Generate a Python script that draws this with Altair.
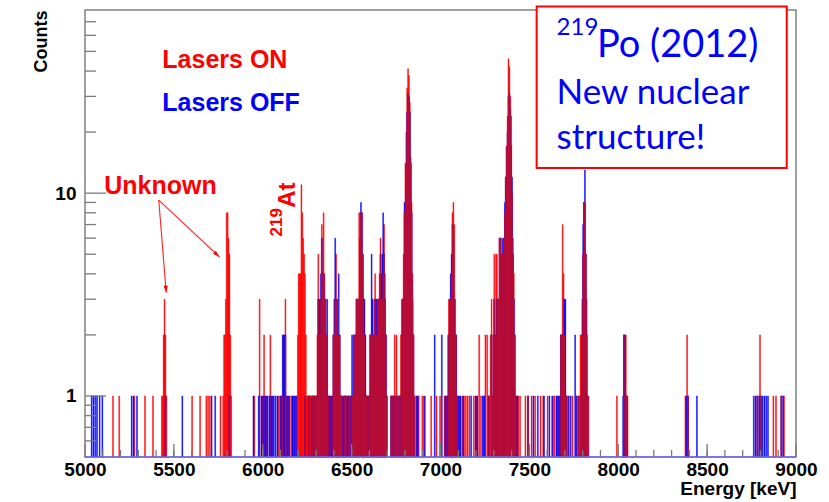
import altair as alt
import pandas as pd

# ---------------- data (bin start energy [keV], counts), 5 keV bins ----------------
BIN_WIDTH = 5

LASERS_ON = [
    (5155, 1), (5190, 1), (5275, 1), (5335, 1), (5380, 1),
    (5430, 1), (5435, 1), (5440, 2), (5445, 3), (5450, 2), (5455, 1),
    (5600, 1), (5645, 1), (5680, 1), (5690, 1), (5700, 1), (5760, 1),
    (5775, 1), (5780, 2), (5785, 2), (5790, 3), (5795, 8), (5800, 8), (5805, 6), (5810, 5), (5815, 2), (5820, 1),
    (5950, 1), (5980, 3), (5995, 1), (6005, 2), (6020, 1), (6040, 2), (6055, 1), (6085, 1), (6100, 1), (6110, 1),
    (6125, 3), (6130, 1), (6140, 1), (6150, 1), (6160, 1), (6170, 1), (6180, 1), (6190, 1),
    (6195, 2), (6200, 4), (6205, 4), (6210, 4), (6215, 11), (6220, 8), (6225, 6), (6230, 5), (6235, 4), (6240, 2), (6245, 1),
    (6250, 1), (6255, 1), (6260, 1), (6265, 1), (6270, 1), (6275, 1), (6280, 1), (6285, 1), (6290, 1), (6295, 1), (6300, 1),
    (6305, 2), (6310, 5), (6315, 2), (6320, 2), (6325, 3), (6330, 7), (6335, 4), (6340, 8), (6345, 4), (6350, 3), (6355, 2), (6360, 1), (6365, 1),
    (6370, 1), (6380, 1), (6390, 1),
    (6395, 2), (6400, 2), (6405, 3), (6410, 5), (6415, 3), (6420, 2), (6425, 2), (6430, 2), (6435, 1),
    (6440, 1), (6445, 1), (6455, 1), (6460, 1), (6465, 1), (6470, 1), (6480, 1), (6485, 1), (6490, 1), (6500, 1), (6505, 1), (6510, 1),
    (6515, 2), (6520, 2), (6525, 3), (6530, 3), (6535, 3), (6540, 8), (6545, 8), (6550, 8), (6555, 8), (6560, 5), (6565, 3), (6570, 2), (6575, 1), (6580, 1), (6585, 1), (6590, 1), (6595, 1),
    (6600, 2), (6605, 2), (6610, 2), (6615, 2), (6620, 2), (6625, 3), (6630, 4), (6635, 2), (6640, 3), (6645, 3), (6650, 3), (6655, 4),
    (6660, 6), (6665, 3), (6670, 3), (6675, 4), (6680, 7), (6685, 4), (6690, 2), (6695, 1),
    (6720, 1), (6725, 1), (6730, 1), (6735, 1), (6740, 2), (6745, 1), (6750, 2), (6755, 1), (6760, 1), (6765, 1),
    (6770, 1), (6775, 2), (6780, 3), (6785, 3), (6790, 5), (6795, 8), (6800, 14), (6805, 20), (6810, 33), (6815, 41), (6820, 38), (6825, 28), (6830, 15), (6835, 9), (6840, 4), (6845, 2), (6850, 1),
    (6860, 1), (6875, 1), (6895, 1), (6910, 1), (6945, 1), (6975, 1), (6995, 1), (7020, 1), (7030, 1),
    (7040, 2), (7045, 3), (7050, 3), (7055, 3), (7060, 4), (7065, 8), (7070, 9), (7075, 7), (7080, 3), (7085, 2), (7090, 1), (7095, 1),
    (7105, 1), (7120, 1), (7130, 1), (7140, 1), (7150, 1), (7160, 1), (7185, 1), (7200, 1), (7215, 2), (7225, 1), (7240, 1),
    (7250, 2), (7260, 2), (7265, 1), (7270, 1), (7280, 2), (7285, 3), (7290, 1), (7295, 2),
    (7300, 5), (7305, 2), (7310, 5), (7315, 5), (7320, 3), (7325, 3), (7330, 6), (7335, 6), (7340, 5), (7345, 5), (7350, 5), (7355, 6),
    (7360, 8), (7365, 12), (7370, 17), (7375, 24), (7380, 46), (7385, 42), (7390, 30), (7395, 24), (7400, 10), (7405, 6), (7410, 4), (7415, 2), (7420, 1), (7425, 1),
    (7435, 1), (7445, 1), (7475, 1), (7490, 1), (7510, 1), (7530, 1), (7560, 1), (7575, 1), (7600, 1), (7625, 1), (7640, 1), (7655, 1), (7665, 1),
    (7675, 2), (7680, 2), (7685, 7), (7690, 4), (7695, 2), (7700, 1), (7705, 1),
    (7720, 1), (7740, 1), (7760, 1), (7775, 1),
    (7785, 2), (7790, 2), (7795, 3), (7800, 5), (7805, 9), (7810, 9), (7815, 5), (7820, 3), (7825, 1), (7830, 1),
    (7990, 1), (8030, 2), (8040, 2), (8045, 1), (8050, 1),
    (8375, 1), (8385, 2), (8390, 1),
    (8780, 1), (8795, 2), (8800, 1), (8870, 1), (8885, 1), (8915, 1), (8930, 1),
]

LASERS_OFF = [
    (5035, 1), (5045, 1), (5055, 1), (5065, 1), (5080, 1), (5095, 1), (5260, 1), (5270, 1), (5290, 1),
    (5450, 1), (5545, 1), (5710, 1), (5730, 1), (5810, 1),
    (5945, 1), (5975, 1), (5990, 1), (6000, 1), (6010, 1), (6015, 1), (6025, 1), (6035, 1), (6045, 1), (6050, 1),
    (6060, 1), (6070, 1), (6080, 1), (6095, 1), (6105, 1),
    (6110, 2), (6115, 2), (6120, 2), (6125, 2), (6135, 1), (6145, 1), (6165, 1), (6175, 1), (6185, 1),
    (6235, 1), (6255, 1), (6260, 1), (6275, 1), (6280, 1), (6290, 1),
    (6300, 1), (6305, 1), (6310, 3), (6315, 3), (6320, 3), (6325, 4), (6330, 6), (6335, 4), (6340, 4), (6345, 3), (6350, 3), (6355, 2), (6360, 3), (6365, 1),
    (6375, 1), (6385, 1),
    (6395, 2), (6400, 3), (6405, 6), (6410, 3), (6415, 3), (6420, 2), (6425, 4), (6430, 2), (6435, 1),
    (6440, 1), (6450, 1), (6460, 1), (6465, 1), (6475, 1), (6485, 1), (6495, 1), (6500, 2), (6505, 1), (6510, 2),
    (6515, 2), (6520, 2), (6525, 3), (6530, 3), (6535, 3), (6540, 3), (6545, 6), (6550, 9), (6555, 8), (6560, 5), (6565, 3), (6570, 3), (6575, 2), (6580, 1), (6585, 1), (6595, 1),
    (6600, 1), (6605, 2), (6610, 5), (6615, 3), (6620, 2), (6625, 2), (6630, 3), (6635, 3), (6640, 2), (6645, 3), (6650, 3), (6655, 3),
    (6660, 5), (6665, 4), (6670, 5), (6675, 8), (6680, 5), (6685, 3), (6690, 2), (6695, 1),
    (6720, 1), (6730, 1), (6740, 1), (6755, 1), (6765, 1),
    (6775, 1), (6780, 2), (6785, 3), (6790, 3), (6795, 9), (6800, 9), (6805, 14), (6810, 25), (6815, 31), (6820, 30), (6825, 25), (6830, 14), (6835, 8), (6840, 3), (6845, 2), (6850, 1),
    (6865, 1), (6870, 1), (6905, 1), (6965, 2), (7005, 2), (7025, 1), (7035, 1),
    (7040, 1), (7045, 2), (7050, 3), (7055, 4), (7060, 5), (7065, 7), (7070, 6), (7075, 3), (7080, 2), (7085, 2), (7090, 1), (7100, 1),
    (7110, 1), (7125, 1), (7170, 1), (7195, 1), (7205, 1), (7235, 1), (7245, 1), (7270, 1), (7285, 2), (7290, 1), (7295, 1),
    (7300, 3), (7305, 2), (7310, 2), (7315, 3), (7320, 3), (7325, 3), (7330, 6), (7335, 6), (7340, 3), (7345, 6), (7350, 5), (7355, 6),
    (7360, 9), (7365, 12), (7370, 17), (7375, 20), (7380, 30), (7385, 31), (7390, 26), (7395, 17), (7400, 12), (7405, 5), (7410, 3), (7415, 2), (7420, 1),
    (7430, 1), (7490, 1), (7520, 1), (7545, 1), (7580, 1), (7610, 1), (7630, 1), (7650, 1), (7660, 1),
    (7670, 1), (7675, 2), (7680, 2), (7685, 2), (7690, 2), (7695, 3), (7700, 3), (7705, 1),
    (7715, 1), (7730, 1), (7755, 2), (7765, 1), (7775, 1),
    (7785, 1), (7790, 1), (7795, 2), (7800, 7), (7805, 9), (7810, 13), (7815, 5), (7820, 2), (7825, 1),
    (8025, 1), (8030, 2), (8035, 2), (8040, 1), (8045, 1),
    (8380, 1), (8390, 1), (8440, 1),
    (8760, 1), (8770, 1), (8780, 1), (8790, 1), (8800, 1), (8810, 1), (8820, 1), (8830, 1), (8840, 1), (8915, 1), (8925, 1),
]

X_LABELS = [5000, 5500, 6000, 6500, 7000, 7500, 8000, 8500, 9000]
X_MINOR = list(range(5100, 9000, 100))
Y_LABELS = [1, 10]
Y_MINOR = [0.6, 0.7, 0.8, 0.9, 2, 3, 4, 5, 6, 7, 8, 9, 20, 30, 40, 50, 60, 70]

# annotation positions in data units (energy, counts)
ANNOT_E = {"Lasers ON": 5435, "Lasers OFF": 5435, "Unknown": 5425, "At": 6140, "219a": 6078}
ANNOT_C = {"Lasers ON": 45.2, "Lasers OFF": 27.8, "Unknown": 10.9, "At": 9.77, "219a": 7.19}
ARROW_FROM = [(5415, 9.24), (5415, 9.24)]
ARROW_TO = [(5457, 3.23), (5757, 4.84)]
BOX_E = [7541, 8948]
BOX_C = [83.2, 13.3]

# ---------------- build table ----------------
on_d = dict(LASERS_ON)
off_d = dict(LASERS_OFF)
energies = sorted(set(on_d) | set(off_d))
df = pd.DataFrame({
    "e": energies,
    "e2": [e + BIN_WIDTH for e in energies],
    "on": [on_d.get(e, 0) for e in energies],
    "off": [off_d.get(e, 0) for e in energies],
})
df["both"] = df[["on", "off"]].min(axis=1)
df["base"] = 0.5

W, H = 711, 447
FONT = "Liberation Sans"
xs = alt.Scale(domain=[5000, 9000], nice=False, zero=False)
ys = alt.Scale(type="log", domain=[0.5, 80], nice=False)

x_axis = alt.Axis(values=X_LABELS, format="d", ticks=False, tickSize=0, domain=False, grid=False,
                  labelFont=FONT, labelFontSize=19, labelFontWeight="bold", labelColor="black",
                  labelPadding=3, labelFlush=False, labelOverlap=False,
                  title="Energy [keV]", titleFont=FONT, titleFontSize=19, titleFontWeight="bold",
                  titleColor="black", titleX=W, titleY=31, titleAlign="right", titleBaseline="middle")
y_axis = alt.Axis(values=Y_LABELS, format="d", ticks=False, tickSize=0, domain=False, grid=False,
                  labelFont=FONT, labelFontSize=19, labelFontWeight="bold", labelColor="black",
                  labelPadding=9, labelOverlap=False,
                  title="Counts", titleFont=FONT, titleFontSize=18, titleFontWeight="bold",
                  titleColor="black", titleAngle=270, titleX=-44, titleY=0, titleAlign="right",
                  titleBaseline="middle")


def X(field):
    return alt.X(field, scale=xs, axis=x_axis)


def Y(field):
    return alt.Y(field, scale=ys, axis=y_axis)


base = alt.Chart(df)


def hist(field, color):
    return base.transform_filter(f"datum.{field} > 0").mark_rect(
        color=color, stroke=color, strokeWidth=0.45).encode(
        x=X("e:Q"), x2="e2:Q", y=Y(f"{field}:Q"), y2="base:Q")


red = hist("on", "#ff0000")
blue = hist("off", "#0000ff")
both = hist("both", "#c01030")

baseline = alt.Chart(pd.DataFrame({"v": [0.5]})).mark_rule(color="#6a6aff", strokeWidth=1.5).encode(
    y=Y("v:Q"), x=alt.value(0), x2=alt.value(W))

ytick_minor = alt.Chart(pd.DataFrame({"v": Y_MINOR})).mark_rule(color="#7a7a7a", strokeWidth=1.3).encode(
    y=Y("v:Q"), x=alt.value(0), x2=alt.value(11))
ytick_major = alt.Chart(pd.DataFrame({"v": Y_LABELS})).mark_rule(color="#7a7a7a", strokeWidth=1.3).encode(
    y=Y("v:Q"), x=alt.value(0), x2=alt.value(21))
xtick_minor = alt.Chart(pd.DataFrame({"v": X_MINOR})).mark_rule(color="#7a7a7a", strokeWidth=1.3).encode(
    x=X("v:Q"), y=alt.value(H), y2=alt.value(H - 7))
xtick_major = alt.Chart(pd.DataFrame({"v": X_LABELS})).mark_rule(color="#7a7a7a", strokeWidth=1.3).encode(
    x=X("v:Q"), y=alt.value(H), y2=alt.value(H - 13))


def label(text, e, c, size, color, font=FONT, weight="bold", align="left", baseline="middle", angle=0):
    kw = dict(text=text, fontSize=size, color=color, font=font, fontWeight=weight,
              align=align, baseline=baseline)
    if angle:
        kw["angle"] = angle
    return alt.Chart(pd.DataFrame({"e": [e], "c": [c]})).mark_text(**kw).encode(
        x=X("e:Q"), y=Y("c:Q"))


arrows = alt.Chart(pd.DataFrame({
    "e": [a[0] for a in ARROW_FROM], "c": [a[1] for a in ARROW_FROM],
    "e2": [b[0] for b in ARROW_TO], "c2": [b[1] for b in ARROW_TO],
})).mark_rule(color="#ff2020", strokeWidth=1.1).encode(
    x=X("e:Q"), y=Y("c:Q"), x2="e2:Q", y2="c2:Q")

heads = alt.Chart(pd.DataFrame({
    "e": [b[0] for b in ARROW_TO], "c": [b[1] for b in ARROW_TO], "ang": [355.4, 313.2],
})).mark_point(shape="M0,0L-0.45,-1.5L0.45,-1.5Z", filled=True, color="#ff0000", size=90, opacity=1).encode(
    x=X("e:Q"), y=Y("c:Q"), angle=alt.Angle("ang:Q", scale=None))

box = alt.Chart(pd.DataFrame({"e": [BOX_E[0]], "e2": [BOX_E[1]], "c": [BOX_C[0]], "c2": [BOX_C[1]]})).mark_rect(
    fill="white", stroke="#ff0000", strokeWidth=2).encode(
    x=X("e:Q"), x2="e2:Q", y=Y("c:Q"), y2="c2:Q")

BOX_FONT = "Lato"
texts = [
    label("Lasers ON", ANNOT_E["Lasers ON"], ANNOT_C["Lasers ON"], 25, "#ff0000"),
    label("Lasers OFF", ANNOT_E["Lasers OFF"], ANNOT_C["Lasers OFF"], 25, "#0000ff"),
    label("Unknown", ANNOT_E["Unknown"], ANNOT_C["Unknown"], 25, "#ff0000", align="center"),
    label("At", ANNOT_E["At"], ANNOT_C["At"], 24, "#ff0000", align="center", angle=270),
    label("219", ANNOT_E["219a"], ANNOT_C["219a"], 17, "#ff0000", align="center", angle=270),
    label("219", 7653, 60, 24, "#0000ff", font=BOX_FONT, weight="normal", baseline="alphabetic"),
    label("Po (2012)", 7880, 46.9, 38, "#0000ff", font=BOX_FONT, weight="normal", baseline="alphabetic"),
    label("New nuclear", 7653, 27.5, 35, "#0000ff", font=BOX_FONT, weight="normal", baseline="alphabetic"),
    label("structure!", 7653, 16.5, 35, "#0000ff", font=BOX_FONT, weight="normal", baseline="alphabetic"),
]

chart = alt.layer(
    red, blue, both, baseline, ytick_minor, ytick_major, xtick_minor, xtick_major,
    arrows, heads, box, *texts
).properties(
    width=W, height=H,
    autosize=alt.AutoSizeParams(type="none"),
    padding={"left": 85, "top": 10, "right": 33, "bottom": 45},
    background="white",
).configure_view(stroke="#808080", strokeWidth=1.5)

chart.save("out.html", embed_options={"renderer": "svg", "actions": False})
